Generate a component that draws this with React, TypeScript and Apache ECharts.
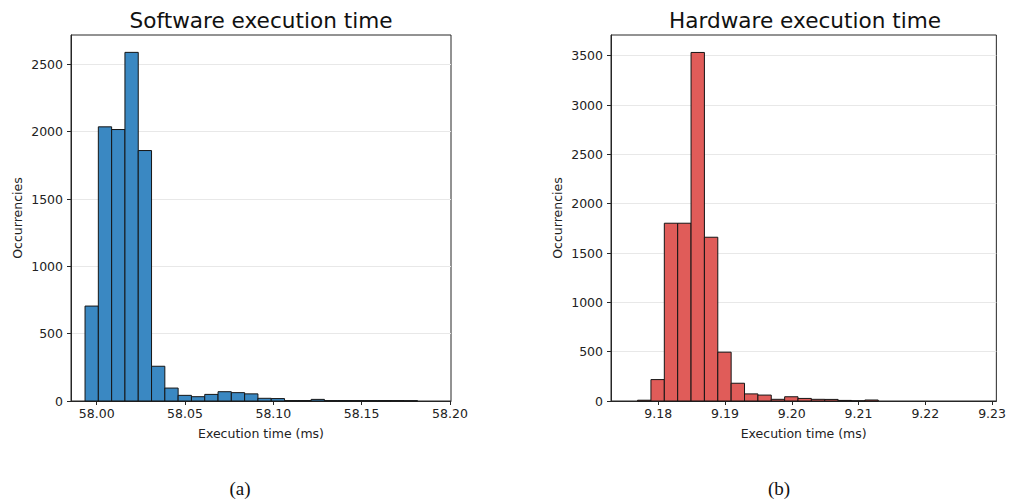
import React, { useEffect, useRef } from "react";
import * as echarts from "echarts";

// Software run: histogram of execution times (ms), 25 equal-width bins
const swBinStart = 57.9934;
const swBinWidth = 0.00753;
const swCounts = [705, 2036, 2016, 2589, 1860, 258, 96, 42, 32, 49, 69, 62, 53, 20, 18, 3, 3, 12, 3, 3, 3, 3, 3, 3, 2];
const swTicks = [58.0, 58.05, 58.1, 58.15, 58.2];

// Hardware run: histogram of execution times (ms), 25 equal-width bins
const hwBinStart = 9.17691;
const hwBinWidth = 0.002002;
const hwCounts = [8, 217, 1802, 1802, 3533, 1660, 495, 180, 72, 60, 17, 43, 26, 17, 16, 6, 1, 10, 0, 0, 0, 0, 0, 0, 0];
const hwTicks = [9.18, 9.19, 9.2, 9.21, 9.22, 9.23];

const yStep = 500;
const swYTicks = [0, 500, 1000, 1500, 2000, 2500];
const hwYTicks = [0, 500, 1000, 1500, 2000, 2500, 3000, 3500];

const FONT = "DejaVu Sans";
const TEXT = "#222";
const SPINE = "#262626";

function toBins(start: number, width: number, counts: number[]) {
  return counts.map((c, i) => [start + i * width, start + (i + 1) * width, c]);
}

function histSeries(gridIndex: number, data: number[][], fill: string) {
  return {
    type: "custom",
    xAxisIndex: gridIndex,
    yAxisIndex: gridIndex,
    encode: { x: [0, 1], y: 2 },
    data,
    renderItem: (params: any, api: any) => {
      // empty bins draw nothing
      if (!api.value(2)) return null;
      const topLeft = api.coord([api.value(0), api.value(2)]);
      const bottomRight = api.coord([api.value(1), 0]);
      return {
        type: "rect",
        shape: {
          x: topLeft[0],
          y: topLeft[1],
          width: bottomRight[0] - topLeft[0],
          height: bottomRight[1] - topLeft[1],
        },
        style: { fill, stroke: "#151515", lineWidth: 1 },
      };
    },
  };
}

function xAxis(gridIndex: number, min: number, max: number, ticks: number[]) {
  return {
    type: "value",
    gridIndex,
    min,
    max,
    name: "Execution time (ms)",
    nameLocation: "middle",
    nameGap: 26,
    nameTextStyle: { fontFamily: FONT, fontSize: 12.5, color: TEXT },
    axisLine: { show: true, lineStyle: { color: SPINE, width: 1 } },
    axisTick: { show: true, inside: false, length: 4, lineStyle: { color: SPINE }, customValues: ticks },
    axisLabel: {
      fontFamily: FONT,
      fontSize: 12.5,
      color: TEXT,
      margin: 6,
      customValues: ticks,
      formatter: (v: number) => v.toFixed(2),
    },
    splitLine: { show: false },
  };
}

function yAxis(gridIndex: number, max: number, ticks: number[]) {
  return {
    type: "value",
    gridIndex,
    min: 0,
    max,
    interval: yStep,
    name: "Occurrencies",
    nameLocation: "middle",
    nameGap: 47,
    nameTextStyle: { fontFamily: FONT, fontSize: 12.5, color: TEXT },
    axisLine: { show: true, lineStyle: { color: SPINE, width: 1 } },
    axisTick: { show: true, inside: false, length: 4, lineStyle: { color: SPINE }, customValues: ticks },
    axisLabel: {
      fontFamily: FONT,
      fontSize: 12.5,
      color: TEXT,
      margin: 8,
      customValues: ticks,
      formatter: (v: number) => String(v),
    },
    splitLine: { show: true, lineStyle: { color: "#e8e8e8", width: 1 } },
  };
}

export default function App() {
  const ref = useRef<HTMLDivElement>(null);

  useEffect(() => {
    if (!ref.current) return;
    const chart = echarts.init(ref.current, undefined, { renderer: "svg" });

    const titleStyle = { fontFamily: FONT, fontSize: 21.6, fill: "#111", textAlign: "center", textVerticalAlign: "middle" };
    const captionStyle = { fontFamily: "Liberation Serif", fontSize: 19, fill: "#111", textAlign: "center", textVerticalAlign: "middle" };

    chart.setOption({
      animation: false,
      backgroundColor: "#ffffff",
      grid: [
        { left: 71, top: 35, width: 380, height: 366, show: true, borderColor: SPINE, borderWidth: 1, backgroundColor: "#fff" },
        { left: 611, top: 35, width: 388, height: 366, show: true, borderColor: SPINE, borderWidth: 1, backgroundColor: "#fff" },
      ],
      xAxis: [xAxis(0, 57.98545, 58.2006, swTicks), xAxis(1, 9.17293, 9.23064, hwTicks)],
      yAxis: [yAxis(0, 2718, swYTicks), yAxis(1, 3710, hwYTicks)],
      series: [
        histSeries(0, toBins(swBinStart, swBinWidth, swCounts), "#3a88c2"),
        histSeries(1, toBins(hwBinStart, hwBinWidth, hwCounts), "#e05c59"),
      ],
      graphic: [
        { type: "text", x: 261, y: 20, style: { ...titleStyle, text: "Software execution time" } },
        { type: "text", x: 805, y: 20, style: { ...titleStyle, text: "Hardware execution time" } },
        { type: "text", x: 240, y: 488, style: { ...captionStyle, text: "(a)" } },
        { type: "text", x: 779, y: 488, style: { ...captionStyle, text: "(b)" } },
      ],
    });

    return () => chart.dispose();
  }, []);

  return (
    <div
      ref={ref}
      style={{ position: "fixed", left: 0, top: 0, width: 1009, height: 502, background: "#fff" }}
    />
  );
}
